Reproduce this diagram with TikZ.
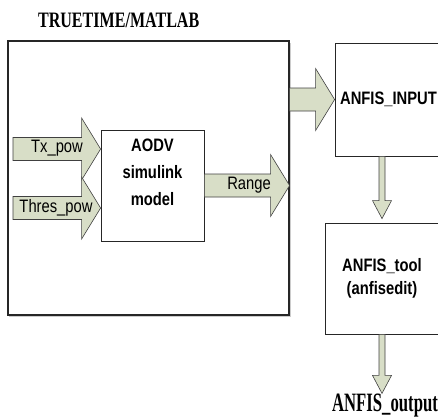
\documentclass[tikz,border=0pt]{standalone}
\usepackage{fontspec}
\setmainfont{Liberation Serif}
\newfontfamily\boxfont[FakeStretch=0.82]{Liberation Sans}
\newfontfamily\titlefont[FakeStretch=0.73]{Liberation Serif}
\newfontfamily\outfont[FakeStretch=0.63]{Liberation Serif}
\usetikzlibrary{positioning,calc,shadows}
\definecolor{arrowfill}{RGB}{216,222,199}

\tikzset{
  block/.style={draw=black!85, line width=0.8bp, fill=white, inner sep=0pt},
  blocktext/.style={font=\boxfont\bfseries\fontsize{18bp}{27bp}\selectfont, align=center},
  flowtext/.style={font=\boxfont\fontsize{18bp}{20bp}\selectfont, inner sep=0pt},
  fat/.style={draw=black!75, line width=0.6bp, fill=arrowfill, line join=miter},
}

\newcommand\hfat[2]{\draw[fat] let \p1=(#1), \p2=(#2) in
  (\x1,\y2+11.5bp) -- (\x2-19bp,\y2+11.5bp) -- (\x2-19bp,\y2+31bp) -- (\x2,\y2)
  -- (\x2-19bp,\y2-31bp) -- (\x2-19bp,\y2-11.5bp) -- (\x1,\y2-11.5bp) -- cycle;}
\newcommand\vfat[2]{\draw[fat] let \p1=(#1), \p2=(#2) in
  (\x2-3bp,\y1) -- (\x2-3bp,\y2+18bp) -- (\x2-9.5bp,\y2+18bp) -- (\x2,\y2)
  -- (\x2+9.5bp,\y2+18bp) -- (\x2+3bp,\y2+18bp) -- (\x2+3bp,\y1) -- cycle;}

\begin{document}
\begin{tikzpicture}[x=1bp, y=-1bp]
\clip (0,0) rectangle (438,419);

\node (title) [anchor=base, font=\titlefont\bfseries\fontsize{22bp}{26bp}\selectfont] at (118.7,27.3) {TRUETIME/MATLAB};

\node (matlab) [block, line width=1.1bp, minimum width=281bp, minimum height=274bp,
  drop shadow={shadow xshift=1.5bp, shadow yshift=-1.5bp, fill=black!40}] at (148.5,178) {};
\node (aodv) [block, minimum width=103bp, minimum height=111bp] at (152.5,185.5) {};
\node (aodvtext) [blocktext] at ([yshift=13bp]aodv.center) {AODV\\simulink\\model};

\node (input) [block, blocktext, minimum width=107bp, minimum height=113bp] at (388.5,99.5) {ANFIS\_INPUT};
\node (tool) [block, blocktext, font=\boxfont\bfseries\fontsize{18bp}{23bp}\selectfont,
  minimum width=114bp, minimum height=111bp] at (382,278.5) {ANFIS\_tool\\(anfisedit)};

\coordinate (txtail) at (13,149);
\coordinate (thtail) at (13,208);
\coordinate (outtip) at ([yshift=-59bp]tool.south);

\hfat{txtail}{txtail -| aodv.west}
\hfat{thtail}{thtail -| aodv.west}
\hfat{aodv.east}{aodv.east -| matlab.east}
\hfat{input.west -| matlab.east}{input.west}
\vfat{input.south}{[yshift=4bp]tool.north}
\vfat{tool.south}{outtip}

\node (tx) [flowtext] at (57,148) {Tx\_pow};
\node (thres) [flowtext] at (56,208) {Thres\_pow};
\node (range) [flowtext] at (249,185) {Range};
\node (output) [below=-3bp of outtip, xshift=3bp, font=\outfont\bfseries\fontsize{26.5bp}{30bp}\selectfont] {ANFIS\_output};

\end{tikzpicture}
\end{document}
